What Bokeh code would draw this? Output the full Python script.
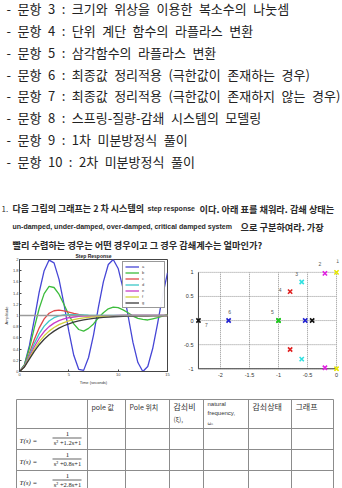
from bokeh.plotting import figure
from bokeh.layouts import column, row
from bokeh.models import (Range1d, FixedTicker, Legend, LegendItem, ColumnDataSource,
                          PrintfTickFormatter, Span)
from bokeh.embed import file_html
from bokeh.resources import INLINE
from bokeh.core.properties import value

KFONT = "Noto Sans CJK KR"
LFONT = "Liberation Sans"
SFONT = "Liberation Serif"
WIDE_SPACE = "\u2002"

# ---------------- text data ----------------
list_items = [
    "- 문항 3 : 크기와 위상을 이용한 복소수의 나눗셈",
    "- 문항 4 : 단위 계단 함수의 라플라스 변환",
    "- 문항 5 : 삼각함수의 라플라스 변환",
    "- 문항 6 : 최종값 정리적용 (극한값이 존재하는 경우)",
    "- 문항 7 : 최종값 정리적용 (극한값이 존재하지 않는 경우)",
    "- 문항 8 : 스프링-질량-감쇄 시스템의 모델링",
    "- 문항 9 : 1차 미분방정식 풀이",
    "- 문항 10 : 2차 미분방정식 풀이",
]
q_line1_a = "다음 그림의 그래프는 2 차 시스템의"
q_line1_b = "step response"
q_line1_c = "이다.  아래  표를 채워라. 감쇄 상태는"
q_line2_a = "un-damped, under-damped, over-damped,  critical damped system"
q_line2_b = "으로 구분하여라. 가장"
q_line3 = "빨리 수렴하는 경우는 어떤 경우이고 그 경우 감쇄계수는 얼마인가?"

# ---------------- step response data ----------------
t = [0, 0.5, 1, 1.5, 2, 2.5, 3, 3.5, 4, 4.5, 5, 5.5, 6, 6.5, 7, 7.5, 8, 8.5, 9, 9.5,
     10, 10.5, 11, 11.5, 12, 12.5, 13, 13.5, 14, 14.5, 15]
resp_a = [0, 0.12, 0.46, 0.93, 1.42, 1.80, 1.99, 1.94, 1.65, 1.21, 0.72, 0.29, 0.04, 0.02,
          0.25, 0.65, 1.15, 1.60, 1.91, 2.00, 1.84, 1.48, 1.00, 0.52, 0.16, 0.00, 0.09,
          0.41, 0.86, 1.35, 1.76]
resp_b = [0, 0.12, 0.41, 0.78, 1.13, 1.39, 1.52, 1.50, 1.38, 1.20, 1.01, 0.85, 0.75, 0.72,
          0.77, 0.85, 0.96, 1.05, 1.12, 1.15, 1.14, 1.10, 1.05, 0.99, 0.95, 0.93, 0.92,
          0.94, 0.96, 0.99, 1.02]
resp_c = [0, 0.10, 0.32, 0.57, 0.78, 0.94, 1.04, 1.085, 1.095, 1.083, 1.061, 1.038, 1.018,
          1.004, 0.995, 0.992, 0.991, 0.992, 0.995, 0.997, 0.999, 1.0, 1.0, 1.0, 1.0, 1.0,
          1.0, 1.0, 1.0, 1.0, 1.0]
resp_d = [0, 0.096, 0.291, 0.498, 0.676, 0.810, 0.903, 0.961, 0.993, 1.009, 1.015, 1.015,
          1.012, 1.009, 1.006, 1.004, 1.002, 1.001, 1.0, 1.0, 1.0, 1.0, 1.0, 1.0, 1.0, 1.0,
          1.0, 1.0, 1.0, 1.0, 1.0]
resp_e = [0, 0.090, 0.264, 0.442, 0.594, 0.713, 0.801, 0.864, 0.908, 0.939, 0.960, 0.973,
          0.983, 0.989, 0.993, 0.995, 0.997, 0.998, 0.999, 0.999, 1.0, 1.0, 1.0, 1.0, 1.0,
          1.0, 1.0, 1.0, 1.0, 1.0, 1.0]
resp_f = [0, 0.085, 0.242, 0.397, 0.530, 0.637, 0.721, 0.786, 0.836, 0.874, 0.904, 0.927,
          0.944, 0.957, 0.967, 0.975, 0.981, 0.985, 0.989, 0.991, 0.993, 0.995, 0.996,
          0.997, 0.998, 0.998, 0.999, 0.999, 0.999, 0.999, 1.0]
resp_g = [0, 0.081, 0.222, 0.359, 0.478, 0.576, 0.656, 0.721, 0.774, 0.817, 0.851, 0.880,
          0.902, 0.921, 0.936, 0.948, 0.958, 0.966, 0.972, 0.978, 0.982, 0.985, 0.988,
          0.990, 0.992, 0.994, 0.995, 0.996, 0.997, 0.997, 0.998]
resp_labels = ["a", "b", "c", "d", "e", "f", "g"]
resp_series = [resp_a, resp_b, resp_c, resp_d, resp_e, resp_f, resp_g]
resp_colors = ["#4646d6", "#3cbc3c", "#e04848", "#3cc8c8", "#c83cc8", "#d2d23c", "#3a3a3a"]
step_xticks = [0, 5, 10, 15]
step_yticks = [0, 0.2, 0.4, 0.6, 0.8, 1, 1.2, 1.4, 1.6, 1.8, 2]

# ---------------- pole map data ----------------
pole_re = [0, 0, -0.2, -0.2, -0.6, -0.6, -0.8, -0.8, -1, -1, -1.86, -0.54, -2.38, -0.42]
pole_im = [1, -1, 0.98, -0.98, 0.8, -0.8, 0.6, -0.6, 0, 0, 0, 0, 0, 0]
pole_id = [1, 1, 2, 2, 3, 3, 4, 4, 5, 5, 6, 6, 7, 7]
pole_id_colors = {1: "#e6e600", 2: "#e020e0", 3: "#30e0e0", 4: "#e02020",
                  5: "#20c820", 6: "#2020d0", 7: "#111111"}
pole_xticks = [-2, -1.5, -1, -0.5, 0]
pole_yticks = [-1, -0.5, 0, 0.5, 1]
pole_xmin, pole_xmax, pole_ymin, pole_ymax = -2.38, 0, -1, 1

# ---------------- table data ----------------
table_headers = ["pole 값", "Pole 위치", "감쇠비", "natural", "감쇠상태", "그래프"]
denom_coef = ["1.2", "0.8", "2.8"]

# ======================= top text figure =======================
top = figure(width=342, height=250, x_range=Range1d(0, 342), y_range=Range1d(250, 0),
             output_backend="svg", toolbar_location=None, min_border=0,
             x_axis_location=None, y_axis_location=None, outline_line_color=None)
top.grid.visible = False
list_y = [8, 30, 52, 73.5, 95, 117, 139, 160.5]
top.text(x=[6] * len(list_items), y=list_y,
         text=[s.replace(" ", WIDE_SPACE) for s in list_items], text_font=value(KFONT),
         text_font_size="13px", text_baseline="middle", text_color="#222222")
top.text(x=[1], y=[208], text=["1."], text_font=value(KFONT), text_font_size="8px",
         text_align="left", text_baseline="middle", text_color="#333333")
top.text(x=[12], y=[208], text=[q_line1_a], text_font=value(KFONT),
         text_font_size="9px", text_baseline="middle", text_color="#2a2a2a",
         text_font_style="bold")
top.text(x=[199, 240, 12], y=[208, 226, 244],
         text=[q_line1_c, q_line2_b, q_line3], text_font=value(KFONT),
         text_font_size="9.2px", text_baseline="middle", text_color="#2a2a2a",
         text_font_style="bold")
top.text(x=[147, 12], y=[208, 226], text=[q_line1_b, q_line2_a], text_font=value(LFONT),
         text_font_size="7px", text_baseline="middle", text_color="#2a2a2a",
         text_font_style="bold")

# ======================= step response figure =======================
ps = figure(width=172, height=137, x_range=Range1d(0, 15), y_range=Range1d(0, 2),
            output_backend="svg", toolbar_location=None, title="Step Response",
            min_border_left=15, min_border_right=5, min_border_top=8, min_border_bottom=14,
            outline_line_color="#444444")
ps.title.text_font = LFONT
ps.title.text_font_size = "5px"
ps.title.align = "center"
ps.title.standoff = 1
ps.title.text_color = "#222222"
ps.grid.visible = False
ps.xaxis.ticker = FixedTicker(ticks=step_xticks)
ps.yaxis.ticker = FixedTicker(ticks=step_yticks)
for ax in (ps.xaxis[0], ps.yaxis[0]):
    ax.formatter = PrintfTickFormatter(format="%g")
    ax.major_label_text_font = LFONT
    ax.major_label_text_font_size = "4px"
    ax.major_label_text_color = "#444444"
    ax.major_label_standoff = 1
    ax.major_tick_in = 2
    ax.major_tick_out = 0
    ax.minor_tick_in = 0
    ax.minor_tick_out = 0
    ax.axis_line_color = "#444444"
    ax.major_tick_line_color = "#444444"
    ax.axis_label_text_font = LFONT
    ax.axis_label_text_font_size = "4px"
    ax.axis_label_text_font_style = "normal"
    ax.axis_label_text_color = "#333333"
    ax.axis_label_standoff = 1
ps.xaxis.axis_label = "Time (seconds)"
ps.yaxis.axis_label = "Amplitude"
ps.add_layout(Span(location=1, dimension="width", line_color="#9a9a9a", line_width=1.5))
items = []
for lab, ser, col in zip(resp_labels, resp_series, resp_colors):
    r = ps.line(t, ser, line_color=col, line_width=1.3)
    items.append(LegendItem(label=lab, renderers=[r]))
leg = Legend(items=items, location="top_right", label_text_font=LFONT,
             label_text_font_size="4px", glyph_height=5, glyph_width=14, label_height=5,
             spacing=1, padding=2, margin=2, label_standoff=3,
             border_line_color="#333333", border_line_width=0.8)
ps.add_layout(leg)

# ======================= pole map figure =======================
pp = figure(width=170, height=137, x_range=Range1d(-2.448, 0.103),
            y_range=Range1d(-1.057, 1.267), output_backend="svg", toolbar_location=None,
            min_border_left=22, min_border_right=0, min_border_top=0, min_border_bottom=15,
            outline_line_color=None)
pp.grid.visible = False
pp.xaxis.ticker = FixedTicker(ticks=pole_xticks)
pp.yaxis.ticker = FixedTicker(ticks=pole_yticks)
for ax in (pp.xaxis[0], pp.yaxis[0]):
    ax.formatter = PrintfTickFormatter(format="%g")
    ax.major_label_text_font = LFONT
    ax.major_label_text_font_size = "5.5px"
    ax.major_label_text_color = "#333333"
    ax.major_label_standoff = 1
    ax.axis_line_color = None
    ax.major_tick_line_color = None
    ax.minor_tick_line_color = None
    ax.major_tick_out = 0
    ax.major_tick_in = 0
# dotted grid
pp.segment(x0=pole_xticks, y0=[pole_ymin] * len(pole_xticks), x1=pole_xticks,
           y1=[pole_ymax] * len(pole_xticks), line_color="#777777", line_width=0.8,
           line_dash="1 1")
pp.segment(x0=[pole_xmin] * len(pole_yticks), y0=pole_yticks,
           x1=[pole_xmax] * len(pole_yticks), y1=pole_yticks, line_color="#777777",
           line_width=0.8, line_dash="1 1")
# axes
pp.segment(x0=[pole_xmin, pole_xmin], y0=[pole_ymin, pole_ymin],
           x1=[pole_xmin, pole_xmax], y1=[pole_ymax, pole_ymin],
           line_color="#444444", line_width=1)
psrc = ColumnDataSource(dict(x=pole_re, y=pole_im,
                             c=[pole_id_colors[i] for i in pole_id]))
pp.scatter("x", "y", source=psrc, marker="x", size=6, line_color="c", line_width=1.6)
# number labels, anchored on the first pole of each pair (pixel offsets)
first_idx = [pole_id.index(k) for k in sorted(set(pole_id))]
lab_dx = [1, -5, -5, -10, -6, 1, 8]
lab_dy = [-11, -9, -8.5, -2, -8.5, -8.5, 4.5]
lsrc = ColumnDataSource(dict(x=[pole_re[i] for i in first_idx],
                             y=[pole_im[i] for i in first_idx],
                             t=[str(pole_id[i]) for i in first_idx],
                             dx=lab_dx, dy=lab_dy))
pp.text("x", "y", text="t", source=lsrc, x_offset="dx", y_offset="dy",
        text_font=value(LFONT), text_font_size="5px", text_color="#555555",
        text_align="center", text_baseline="middle")

# ======================= table figure =======================
tb = figure(width=342, height=101, x_range=Range1d(0, 342), y_range=Range1d(488, 387),
            output_backend="svg", toolbar_location=None, min_border=0,
            x_axis_location=None, y_axis_location=None, outline_line_color=None)
tb.grid.visible = False
col_x = [16, 87, 125, 169, 203, 248, 291, 333]
row_y = [399, 428, 449, 470]
tb.segment(x0=[col_x[0]] * len(row_y), y0=row_y, x1=[col_x[-1]] * len(row_y), y1=row_y,
           line_color="#8c8c8c", line_width=1)
tb.segment(x0=col_x, y0=[row_y[0]] * len(col_x), x1=col_x, y1=[495] * len(col_x),
           line_color="#8c8c8c", line_width=1)
head_x = [c + 4 for c in col_x[1:]]
tb.text(x=head_x[:2], y=[406, 406], text=table_headers[:2], text_font=value(KFONT),
        text_font_size="7px", text_baseline="middle", text_color="#333333")
tb.text(x=[head_x[2], head_x[4], head_x[5]], y=[406, 406, 406],
        text=[table_headers[2], table_headers[4], table_headers[5]], text_font=value(KFONT),
        text_font_size="8px", text_baseline="middle", text_color="#333333")
tb.text(x=[head_x[2]], y=[418], text=["(ξ),"], text_font=value(KFONT),
        text_font_size="6.5px", text_baseline="middle", text_color="#333333")
tb.text(x=[head_x[3], head_x[3]], y=[403, 412.5], text=[table_headers[3], "frequency,"],
        text_font=value(LFONT), text_font_size="6px", text_baseline="middle",
        text_color="#333333")
tb.text(x=[head_x[3]], y=[423], text=["ωₙ"], text_font=value("DejaVu Sans"),
        text_font_size="4.5px", text_baseline="middle", text_color="#333333")
for k, coef in enumerate(denom_coef):
    top_y = row_y[1] + 21 * k
    tb.text(x=[19], y=[top_y + 12], text=["T(s) ="], text_font=value(SFONT),
            text_font_size="7px", text_font_style="italic", text_baseline="middle",
            text_color="#222222")
    tb.text(x=[67], y=[top_y + 5], text=["1"], text_font=value(SFONT),
            text_font_size="7px", text_align="center", text_baseline="middle",
            text_color="#222222")
    tb.segment(x0=[52], y0=[top_y + 9.5], x1=[81], y1=[top_y + 9.5], line_color="#222222",
               line_width=0.7)
    tb.text(x=[67], y=[top_y + 14.3], text=["s² +" + coef + "s+1"], text_font=value(SFONT),
            text_font_size="6.5px", text_align="center", text_baseline="middle",
            text_color="#222222")

layout = column(top, row(ps, pp, spacing=0), tb, spacing=0)
open("out.html", "w").write(file_html(layout, INLINE))
